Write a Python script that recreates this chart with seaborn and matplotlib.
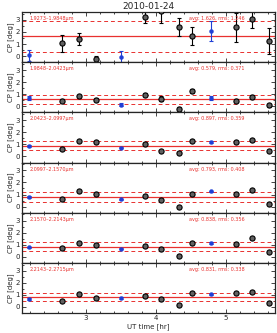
import numpy as np
import matplotlib
matplotlib.use("Agg")
import matplotlib.pyplot as plt
from matplotlib.ticker import MultipleLocator
import seaborn as sns

# UT time of each observation [hr]
ut = [2.19, 2.66, 2.90, 3.14, 3.51, 3.84, 4.08, 4.33, 4.52, 4.79, 5.14, 5.37, 5.61]
# calibrator flags (blue points)
is_cal = [1, 0, 0, 0, 1, 0, 0, 0, 0, 1, 0, 0, 0]

bands = ["1.9273\u20131.9848\u00b5m", "1.9848\u20132.0423\u00b5m", "2.0423\u20132.0997\u00b5m",
         "2.0997\u20132.1570\u00b5m", "2.1570\u20132.2143\u00b5m", "2.2143\u20132.2715\u00b5m"]
avg = [1.626, 0.579, 0.897, 0.793, 0.838, 0.831]
rms = [1.246, 0.371, 0.359, 0.408, 0.356, 0.338]

cp1 = [0.08, 1.05, 1.38, -0.24, -0.10, 3.20, 3.75, 2.40, 1.65, 2.05, 2.40, 3.05, 1.24]
err1 = [0.45, 0.70, 0.50, 0.25, 0.50, 0.45, 1.00, 0.77, 0.75, 0.84, 1.20, 0.75, 1.10]
cp2 = [0.69, 0.47, 0.82, 0.55, 0.14, 0.96, 0.63, -0.25, 1.29, 0.69, 0.47, 0.77, 0.08]
err2 = [0.15, 0.15, 0.15, 0.15, 0.12, 0.15, 0.20, 0.18, 0.15, 0.15, 0.15, 0.15, 0.15]
cp3 = [0.85, 0.65, 1.26, 1.18, 0.72, 1.05, 0.45, 0.27, 1.31, 1.21, 1.18, 1.37, 0.45]
cp4 = [0.81, 0.67, 1.26, 1.05, 0.59, 0.85, 0.51, -0.05, 1.05, 1.26, 1.07, 1.34, 0.24]
cp5 = [0.78, 0.72, 1.13, 0.94, 0.67, 0.86, 0.65, 0.10, 1.18, 1.13, 1.05, 1.53, 0.40]
cp6 = [0.67, 0.53, 1.07, 0.78, 0.73, 0.94, 0.65, 0.13, 1.18, 1.05, 1.18, 1.26, 0.32]
err_small = [0.06] * 13

cps = [cp1, cp2, cp3, cp4, cp5, cp6]
errs = [err1, err2, err_small, err_small, err_small, err_small]

sns.set_style("ticks")
plt.rcParams["font.family"] = ["DejaVu Sans"]
red = "#e8312f"
blue = "#1f3fd6"

fig, axes = plt.subplots(6, 1, figsize=(2.77, 3.33), dpi=100, sharex=True)
fig.subplots_adjust(left=0.079, right=0.993, top=0.964, bottom=0.06, hspace=0)

ut_a = np.array(ut)
cal = np.array(is_cal) == 1
for i, ax in enumerate(axes):
    y = np.array(cps[i])
    e = np.array(errs[i])
    ax.errorbar(ut_a[~cal], y[~cal], yerr=e[~cal], fmt="none", ecolor="black",
                elinewidth=0.8, capsize=1.5, capthick=0.8, zorder=2)
    ax.errorbar(ut_a[cal], y[cal], yerr=e[cal], fmt="none", ecolor=blue,
                elinewidth=0.8, capsize=1.5, capthick=0.8, zorder=2)
    sns.scatterplot(x=ut_a[~cal], y=y[~cal], ax=ax, s=14, color="#606060",
                    edgecolor="black", linewidth=0.8, zorder=3, legend=False)
    sns.scatterplot(x=ut_a[cal], y=y[cal], ax=ax, s=8, color=blue,
                    edgecolor=blue, linewidth=0.3, zorder=3, legend=False)
    ax.axhline(avg[i], color=red, lw=0.9, zorder=1)
    ax.axhline(avg[i] + rms[i], color=red, lw=0.7, ls=(0, (4, 3)), zorder=1)
    ax.axhline(avg[i] - rms[i], color=red, lw=0.7, ls=(0, (4, 3)), zorder=1)
    ax.text(0.03, 0.92, bands[i], transform=ax.transAxes, color=red,
            fontsize=3.5, va="top", ha="left")
    ax.text(0.66, 0.92, f"avg: {avg[i]:.3f}, rms: {rms[i]:.3f}", transform=ax.transAxes,
            color=red, fontsize=3.5, va="top", ha="left")
    ax.set_xlim(2.09, 5.70)
    ax.set_ylim(-0.5, 3.65)
    ax.yaxis.set_major_locator(MultipleLocator(1))
    ax.yaxis.set_minor_locator(MultipleLocator(0.5))
    ax.xaxis.set_major_locator(MultipleLocator(1))
    ax.xaxis.set_minor_locator(MultipleLocator(0.2))
    ax.tick_params(which="both", direction="in", top=True, right=True,
                   labelsize=5, width=0.6, pad=1.5)
    ax.tick_params(which="major", length=3)
    ax.tick_params(which="minor", length=1.5)
    ax.set_ylabel("CP [deg]", fontsize=5, labelpad=1)
    for s in ax.spines.values():
        s.set_linewidth(0.9)

axes[0].set_title("2010-01-24", fontsize=6.5, pad=2)
axes[-1].set_xlabel("UT time [hr]", fontsize=5, labelpad=1.5)

fig.savefig("out.png", dpi=100)
